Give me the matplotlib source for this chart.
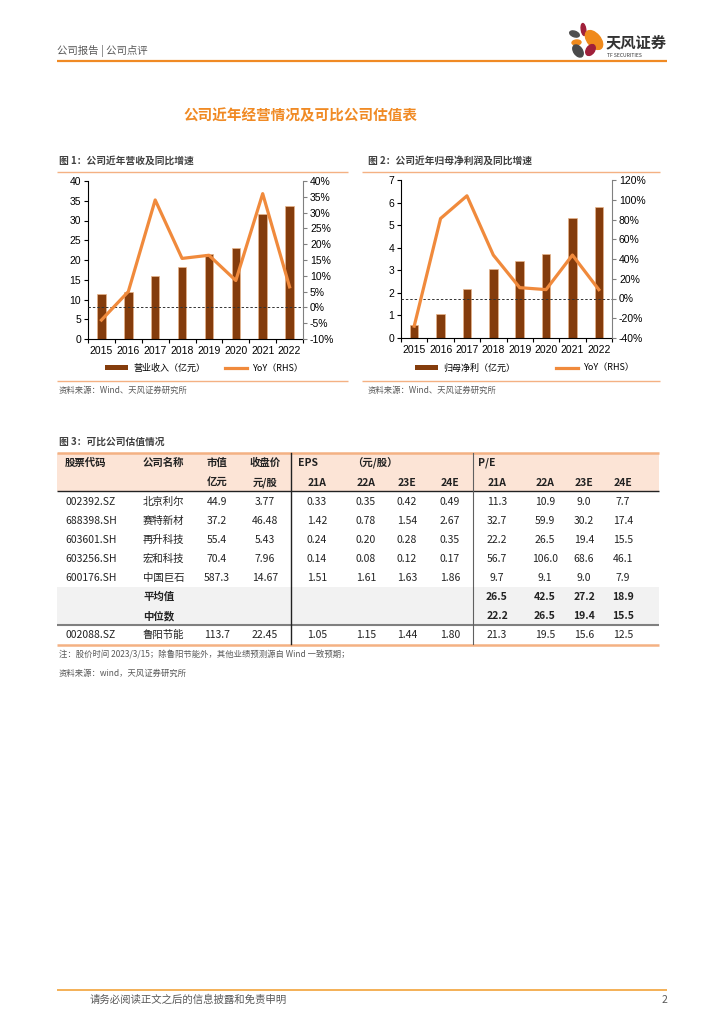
import numpy as np
import matplotlib
matplotlib.use('Agg')
import matplotlib.pyplot as plt
from matplotlib.patches import Rectangle, Ellipse, Patch
from matplotlib.lines import Line2D
from matplotlib.ticker import FuncFormatter

plt.rcParams['font.family'] = ['Noto Sans CJK SC', 'DejaVu Sans']
plt.rcParams['axes.unicode_minus'] = False

# chart data
years = ['2015', '2016', '2017', '2018', '2019', '2020', '2021', '2022']
revenue = [11.3, 11.9, 15.9, 18.3, 21.4, 23.1, 31.6, 33.6]
revenue_yoy = [-4.0, 5.0, 34.0, 15.5, 16.5, 8.5, 36.0, 6.5]
profit = [0.57, 1.05, 2.15, 3.05, 3.40, 3.70, 5.33, 5.82]
profit_yoy = [-28.0, 81.0, 104.0, 44.0, 11.0, 9.0, 44.0, 9.0]

# table data
codes = ['002392.SZ', '688398.SH', '603601.SH', '603256.SH', '600176.SH']
names = ['北京利尔', '赛特新材', '再升科技', '宏和科技', '中国巨石']
mcap = [44.9, 37.2, 55.4, 70.4, 587.3]
price = [3.77, 46.48, 5.43, 7.96, 14.67]
eps = [[0.33, 0.35, 0.42, 0.49],
       [1.42, 0.78, 1.54, 2.67],
       [0.24, 0.20, 0.28, 0.35],
       [0.14, 0.08, 0.12, 0.17],
       [1.51, 1.61, 1.63, 1.86]]
pe = [[11.3, 10.9, 9.0, 7.7],
      [32.7, 59.9, 30.2, 17.4],
      [22.2, 26.5, 19.4, 15.5],
      [56.7, 106.0, 68.6, 46.1],
      [9.7, 9.1, 9.0, 7.9]]
pe_mean = [26.5, 42.5, 27.2, 18.9]
pe_median = [22.2, 26.5, 19.4, 15.5]
target_code = '002088.SZ'
target_name = '鲁阳节能'
target_mcap = 113.7
target_price = 22.45
target_eps = [1.05, 1.15, 1.44, 1.80]
target_pe = [21.3, 19.5, 15.6, 12.5]
periods = ['21A', '22A', '23E', '24E']

BAR = '#843C0C'
LINE = '#F08A3C'
ORANGE = '#F08A24'
LIGHT = '#F4B183'
GRAY_TXT = '#595959'
NUM_FONT = ['Liberation Sans', 'DejaVu Sans']

W, H = 724, 1024
fig = plt.figure(figsize=(W / 100, H / 100), dpi=100)

def fx(x):
    return x / W

def fy(y):
    return 1 - y / H

# background axes in pixel coordinates
bg = fig.add_axes([0, 0, 1, 1], zorder=0)
bg.set_xlim(0, W)
bg.set_ylim(H, 0)
bg.axis('off')

def hline(y, x0, x1, color, lw):
    bg.plot([x0, x1], [y, y], color=color, lw=lw, solid_capstyle='butt')

# header
bg.text(57, 51, '公司报告 | 公司点评', fontsize=7.5, color=GRAY_TXT, va='center')
hline(60.5, 57, 667, ORANGE, 1.6)
# logo petals
bg.add_patch(Ellipse((583.5, 29.5), 4.5, 12, angle=-8, color='#A0203A'))
bg.add_patch(Ellipse((594, 40), 13, 22, angle=-40, color='#F08A1C'))
bg.add_patch(Ellipse((574.5, 34), 10, 5.5, angle=20, color='#505050'))
bg.add_patch(Ellipse((576.5, 42.5), 9, 5, angle=-5, color='#F08A1C'))
bg.add_patch(Ellipse((578, 51), 8.5, 13.5, angle=-35, color='#4A4A4A'))
bg.add_patch(Ellipse((590.5, 50), 8, 12, angle=35, color='#A0203A'))
bg.text(606, 42, '天风证券', fontsize=11, fontweight='bold', color='#333333', va='center')
bg.text(607, 55.5, 'TF SECURITIES', fontsize=3.6, color='#333333', va='center')

bg.text(300, 115, '公司近年经营情况及可比公司估值表', fontsize=10.5, color=ORANGE,
        ha='center', va='center', fontweight='bold')

def pct(v, pos):
    return '{:.0f}%'.format(v)

def draw_chart(rect, bars, yoy, lmax, lstep, rmin, rmax, rstep, bar_label,
               title, title_x, line_x0, line_x1, leg_x, leg_spacing):
    ax = fig.add_axes(rect, zorder=2)
    x = np.arange(len(years))
    ax.bar(x, bars, width=0.32, color=BAR, edgecolor='#E8B48A', linewidth=0.5, zorder=2)
    ax.set_xlim(-0.5, len(years) - 0.5)
    ax.set_ylim(0, lmax)
    ax.set_yticks(np.arange(0, lmax + lstep / 2, lstep))
    ax.set_xticks(x)
    ax.set_xticklabels(years)
    ax.set_xticks(np.arange(-0.5, len(years), 1), minor=True)
    ax.tick_params(axis='x', which='major', length=0, pad=5, labelsize=7.5)
    ax.tick_params(axis='x', which='minor', length=3, direction='out', width=0.8)
    ax.tick_params(axis='y', length=3, direction='out', labelsize=7.5, pad=2, width=0.8)
    for lbl in ax.get_xticklabels() + ax.get_yticklabels():
        lbl.set_fontfamily(NUM_FONT)
    ax.spines['top'].set_visible(False)
    ax.spines['right'].set_visible(False)
    ax.spines['left'].set_linewidth(0.8)
    ax.spines['bottom'].set_linewidth(0.8)
    ax.patch.set_alpha(0)

    ax2 = ax.twinx()
    ax2.plot(x, yoy, color=LINE, lw=2.3, zorder=3)
    ax2.axhline(0, color='#333333', lw=0.7, ls=(0, (2.5, 2)), zorder=1)
    ax2.set_ylim(rmin, rmax)
    ax2.set_yticks(np.arange(rmin, rmax + rstep / 2, rstep))
    ax2.yaxis.set_major_formatter(FuncFormatter(pct))
    ax2.tick_params(axis='y', length=3, direction='out', labelsize=7.5, pad=2,
                    width=0.8, color='#808080')
    for lbl in ax2.get_yticklabels():
        lbl.set_fontfamily(NUM_FONT)
    for s in ['top', 'left', 'bottom']:
        ax2.spines[s].set_visible(False)
    ax2.spines['right'].set_color('#808080')
    ax2.spines['right'].set_linewidth(0.8)

    handles = [Patch(facecolor=BAR, edgecolor='none'), Line2D([], [], color=LINE, lw=2.3)]
    fig.legend(handles, [bar_label, 'YoY（RHS）'], loc='center left',
               bbox_to_anchor=(fx(leg_x), fy(368)), bbox_transform=fig.transFigure,
               ncol=2, frameon=False, fontsize=6.5, handlelength=2.5, handleheight=0.6,
               handletextpad=0.6, columnspacing=leg_spacing, borderpad=0, borderaxespad=0)

    bg.text(title_x, 161, title, fontsize=7, fontweight='bold', color='#404040', va='center')
    hline(172, line_x0, line_x1, LIGHT, 1.0)
    hline(380.5, line_x0, line_x1, LIGHT, 1.0)
    bg.text(title_x, 390, '资料来源：Wind、天风证券研究所', fontsize=6, color=GRAY_TXT, va='center')

draw_chart([fx(88), fy(339), fx(303) - fx(88), fy(181) - fy(339)],
           revenue, revenue_yoy, 40, 5, -10, 40, 5, '营业收入（亿元）',
           '图 1：公司近年营收及同比增速', 59, 57, 348, 105, 2.2)
draw_chart([fx(401), fy(338), fx(612) - fx(401), fy(180) - fy(338)],
           profit, profit_yoy, 7, 1, -40, 120, 20, '归母净利（亿元）',
           '图 2：公司近年归母净利润及同比增速', 368, 362, 660, 415, 4.5)

# table
tx0, tx1 = 57, 659
bg.text(59, 442, '图 3：可比公司估值情况', fontsize=7, fontweight='bold', color='#404040', va='center')
bg.add_patch(Rectangle((tx0, 453), tx1 - tx0, 38, facecolor='#FCE4D6', edgecolor='none'))
bg.add_patch(Rectangle((tx0, 587), tx1 - tx0, 38, facecolor='#F2F2F2', edgecolor='none'))
hline(453, tx0, tx1, LIGHT, 1.8)
hline(491, tx0, tx1, '#222222', 1.0)
hline(625, tx0, tx1, '#808080', 1.5)
hline(644.5, tx0, tx1, LIGHT, 1.8)
bg.plot([291, 291], [453, 644], color='#222222', lw=1.0)
bg.plot([473, 473], [453, 644], color='#606060', lw=0.8)

eps_x = [317, 366, 407, 450]
pe_x = [497, 545, 584, 623]
hdr = dict(fontsize=7.5, fontweight='bold', color='#222222', va='center')
bg.text(65, 463, '股票代码', **hdr)
bg.text(143, 463, '公司名称', **hdr)
bg.text(217, 463, '市值', ha='center', **hdr)
bg.text(265, 463, '收盘价', ha='center', **hdr)
bg.text(298, 463, 'EPS', **hdr)
bg.text(352, 463, '（元/股）', **hdr)
bg.text(478, 463, 'P/E', **hdr)
bg.text(217, 483, '亿元', ha='center', **hdr)
bg.text(265, 483, '元/股', ha='center', **hdr)
for i, p in enumerate(periods):
    bg.text(eps_x[i], 483, p, ha='center', **hdr)
    bg.text(pe_x[i], 483, p, ha='center', **hdr)

cell = dict(fontsize=7.5, color='#222222', va='center')
row_y = [502, 521, 540, 559, 578]
for r in range(len(codes)):
    y = row_y[r]
    bg.text(65, y, codes[r], **cell)
    bg.text(143, y, names[r], **cell)
    bg.text(217, y, '{:.1f}'.format(mcap[r]), ha='center', **cell)
    bg.text(265, y, '{:.2f}'.format(price[r]), ha='center', **cell)
    for i in range(4):
        bg.text(eps_x[i], y, '{:.2f}'.format(eps[r][i]), ha='center', **cell)
        bg.text(pe_x[i], y, '{:.1f}'.format(pe[r][i]), ha='center', **cell)

stat = dict(fontsize=7.5, color='#222222', va='center', fontweight='bold', fontstyle='italic')
bg.text(143, 597, '平均值', **stat)
bg.text(143, 616, '中位数', **stat)
for i in range(4):
    bg.text(pe_x[i], 597, '{:.1f}'.format(pe_mean[i]), ha='center', **stat)
    bg.text(pe_x[i], 616, '{:.1f}'.format(pe_median[i]), ha='center', **stat)

y = 635
bg.text(65, y, target_code, **cell)
bg.text(143, y, target_name, **cell)
bg.text(217, y, '{:.1f}'.format(target_mcap), ha='center', **cell)
bg.text(265, y, '{:.2f}'.format(target_price), ha='center', **cell)
for i in range(4):
    bg.text(eps_x[i], y, '{:.2f}'.format(target_eps[i]), ha='center', **cell)
    bg.text(pe_x[i], y, '{:.1f}'.format(target_pe[i]), ha='center', **cell)

bg.text(59, 655, '注：股价时间 2023/3/15；除鲁阳节能外，其他业绩预测源自 Wind 一致预期；',
        fontsize=6, color=GRAY_TXT, va='center')
bg.text(59, 673, '资料来源：wind，天风证券研究所', fontsize=6, color=GRAY_TXT, va='center')

# footer
hline(990, 57, 667, '#F2A33A', 1.2)
bg.text(90, 1000, '请务必阅读正文之后的信息披露和免责申明', fontsize=7.5, color=GRAY_TXT, va='center')
bg.text(667, 1000, '2', fontsize=7.5, color=GRAY_TXT, va='center', ha='right')

fig.savefig('out.png', dpi=100)
